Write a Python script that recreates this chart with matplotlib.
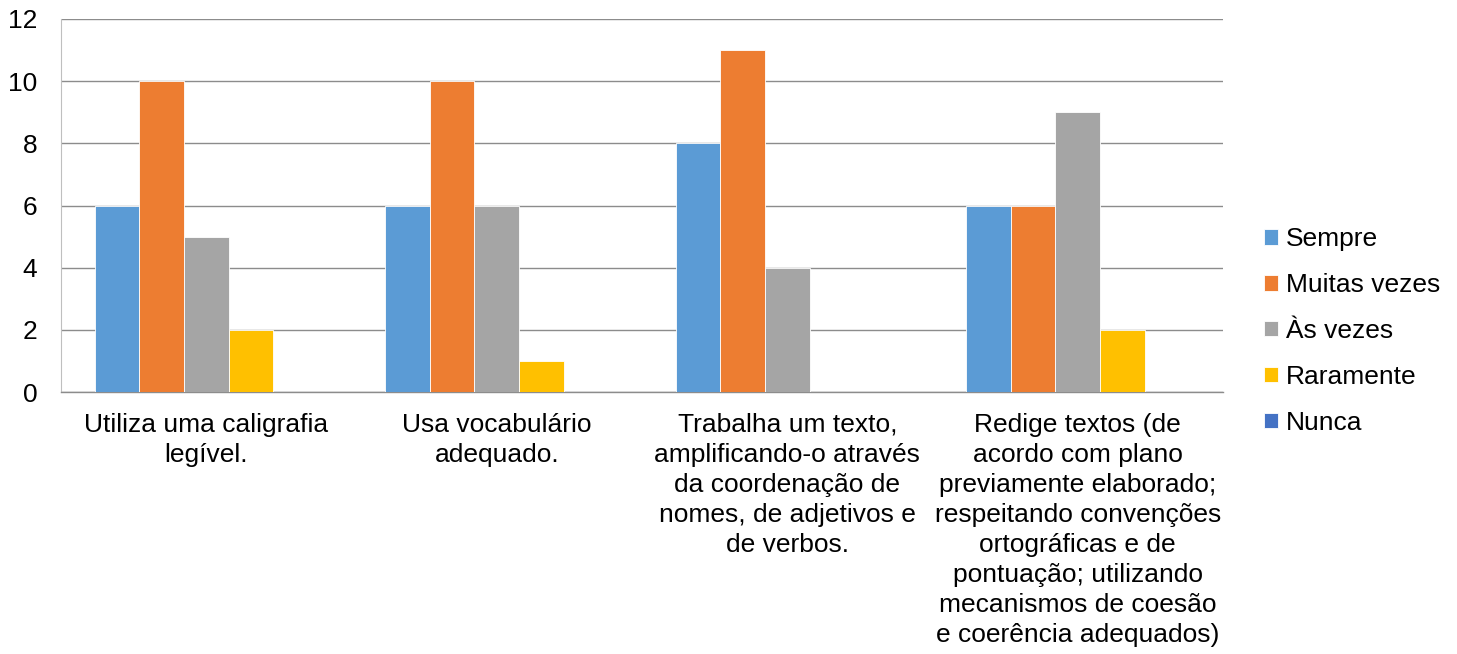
import matplotlib.pyplot as plt
import numpy as np

plt.rcParams['font.family'] = ['Liberation Sans', 'DejaVu Sans']

# Categories (x-axis labels, wrapped as in the original)
categories = [
    'Utiliza uma caligrafia\nlegível.',
    'Usa vocabulário\nadequado.',
    'Trabalha um texto,\namplificando-o através\nda coordenação de\nnomes, de adjetivos e\nde verbos.',
    'Redige textos (de\nacordo com plano\npreviamente elaborado;\nrespeitando convenções\nortográficas e de\npontuação; utilizando\nmecanismos de coesão\ne coerência adequados)',
]

series_names = ['Sempre', 'Muitas vezes', 'Às vezes', 'Raramente', 'Nunca']
sempre = [6, 6, 8, 6]
muitas_vezes = [10, 10, 11, 6]
as_vezes = [5, 6, 4, 9]
raramente = [2, 1, 0, 2]
nunca = [0, 0, 0, 0]

colors = ['#5B9BD5', '#ED7D31', '#A5A5A5', '#FFC000', '#4472C4']

fig = plt.figure(figsize=(14.57, 6.54), dpi=100)
ax = fig.add_axes([61 / 1457, 1 - 392 / 654, (1223 - 61) / 1457, (392 - 19) / 654])

x = np.arange(len(categories))
n = len(series_names)
group = 1 / 1.3  # Excel gap width 30%
w = group / n
all_series = [sempre, muitas_vezes, as_vezes, raramente, nunca]
for i, (name, vals, c) in enumerate(zip(series_names, all_series, colors)):
    ax.bar(x - group / 2 + w * (i + 0.5), vals, width=w, color=c, label=name,
           edgecolor='white', linewidth=0.6, zorder=3)

ax.set_xlim(-0.5, len(categories) - 0.5)
ax.set_ylim(0, 12)
ax.set_yticks(range(0, 13, 2))
ax.yaxis.grid(True, color='#8c8c8c', linewidth=1.0, zorder=0)
ax.set_axisbelow(True)

for s in ['top', 'right']:
    ax.spines[s].set_visible(False)
ax.spines['left'].set_color('#bfbfbf')
ax.spines['bottom'].set_color('#8c8c8c')
ax.spines['bottom'].set_linewidth(1.0)

ax.set_xticks(x)
ax.set_xticklabels(categories, fontsize=19, linespacing=1.32)
ax.tick_params(axis='x', length=0, pad=15)
ax.tick_params(axis='y', length=0, pad=17, labelsize=19)

fig.legend(loc='center left', bbox_to_anchor=(1251 / 1457, 1 - 331 / 654),
           frameon=False, fontsize=19, handlelength=0.53, handleheight=0.53,
           handletextpad=0.3, labelspacing=0.83, borderpad=0)

fig.savefig('out.png', dpi=100)
